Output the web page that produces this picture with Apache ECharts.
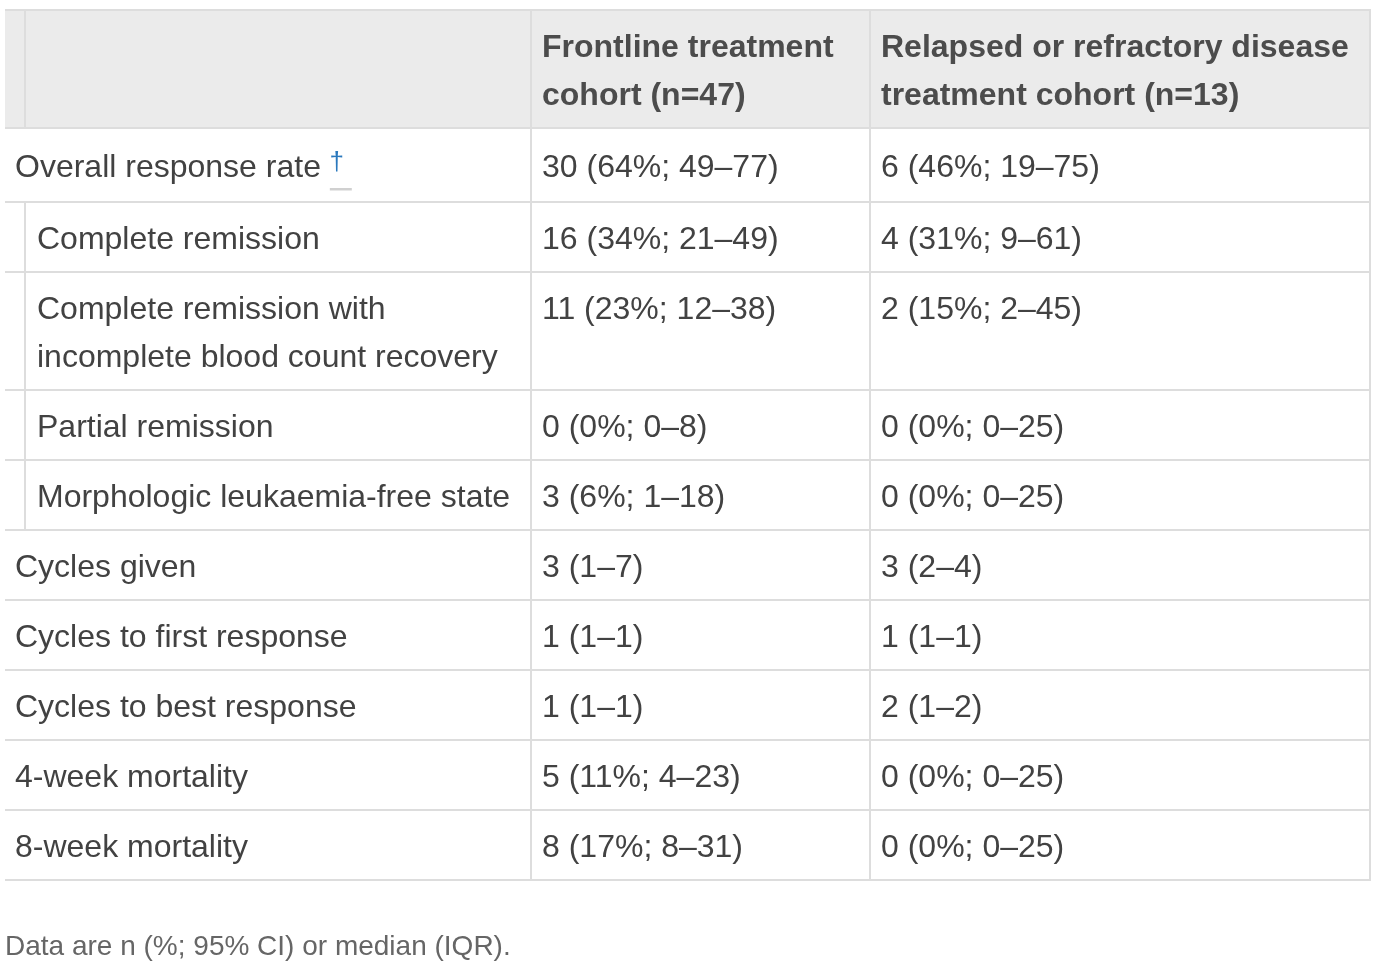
<!DOCTYPE html>
<html><head><meta charset="utf-8">
<script src="https://cdn.jsdelivr.net/npm/echarts@6/dist/echarts.min.js"></script>
<style>html,body{margin:0;padding:0;background:#fff;}#c{width:1388px;height:968px;}</style>
</head><body><div id="c"></div>
<script>
// ---- data ----
const columnHeaders = ['', 'Frontline treatment\ncohort (n=47)', 'Relapsed or refractory disease\ntreatment cohort (n=13)'];
const rowLabels = [
  'Overall response rate',
  'Complete remission',
  'Complete remission with\nincomplete blood count recovery',
  'Partial remission',
  'Morphologic leukaemia-free state',
  'Cycles given',
  'Cycles to first response',
  'Cycles to best response',
  '4-week mortality',
  '8-week mortality'
];
const rowNotes = ['†', '', '', '', '', '', '', '', '', ''];
const subRows = [false, true, true, true, true, false, false, false, false, false];
const frontline = [
  '30 (64%; 49–77)', '16 (34%; 21–49)', '11 (23%; 12–38)', '0 (0%; 0–8)', '3 (6%; 1–18)',
  '3 (1–7)', '1 (1–1)', '1 (1–1)', '5 (11%; 4–23)', '8 (17%; 8–31)'
];
const relapsed = [
  '6 (46%; 19–75)', '4 (31%; 9–61)', '2 (15%; 2–45)', '0 (0%; 0–25)', '0 (0%; 0–25)',
  '3 (2–4)', '1 (1–1)', '2 (1–2)', '0 (0%; 0–25)', '0 (0%; 0–25)'
];
const footnote = 'Data are n (%; 95% CI) or median (IQR).';

// ---- layout / style ----
const FONT = '"Liberation Sans", Arial, Helvetica, sans-serif';
const FS = 32, LH = 48, PAD = 11, TEXT_SHIFT = 3;
const TABLE_W = 1366;
const TEXT_COLOR = '#424242', HEAD_COLOR = '#4c4c4c', BORDER = '#dddddd', HEAD_BG = '#ebebeb';
const colLines = [525, 864];
const colTextX = [10, 537, 876];
const indentX = 19, indentTextX = 32;

const lineCount = s => s.split('\n').length;
const rows = [{ header: true, cells: columnHeaders, note: '', sub: false }];
rowLabels.forEach((l, i) => rows.push({ header: false, cells: [l, frontline[i], relapsed[i]], note: rowNotes[i], sub: subRows[i] }));
const heights = rows.map(r => Math.max(...r.cells.map(lineCount)) * LH + 2 * PAD + (r.note ? 4 : 0));
const tops = [];
heights.reduce((acc, h, i) => { tops[i] = acc; return acc + h; }, 0);
const TABLE_H = tops[tops.length - 1] + heights[heights.length - 1];

const mctx = document.createElement('canvas').getContext('2d');
mctx.font = FS + 'px ' + FONT;

function renderItem(params, api) {
  const i = params.dataIndex;
  const r = rows[i];
  const top = tops[i], h = heights[i];
  const p = (x, y) => api.coord([x, y]);
  const children = [];
  const rect = (x, y, w, hh, fill) => {
    const a = p(x, y), b = p(x + w, y + hh);
    children.push({ type: 'rect', shape: { x: a[0], y: a[1], width: b[0] - a[0], height: b[1] - a[1] }, style: { fill } });
  };
  if (r.header) {
    rect(0, top, TABLE_W - 2, h, HEAD_BG);
    rect(0, top - 1, TABLE_W, 2, BORDER);
  }
  rect(0, top + h - 1, TABLE_W, 2, BORDER);
  colLines.forEach(x => rect(x, top, 2, h, BORDER));
  rect(TABLE_W - 2, top - (r.header ? 1 : 0), 2, h + 1, BORDER);
  if (r.header || r.sub) rect(indentX, top, 2, h, BORDER);
  const yBase = top + PAD + (r.note ? 2 : 0);
  const yText = yBase + TEXT_SHIFT;
  r.cells.forEach((t, c) => {
    if (!t) return;
    const x = c === 0 ? (r.sub ? indentTextX : colTextX[0]) : colTextX[c];
    const a = p(x, yText);
    children.push({ type: 'text', x: a[0], y: a[1], style: {
      text: t, fontSize: FS, fontFamily: FONT, fontWeight: r.header ? 'bold' : 'normal',
      fill: r.header ? HEAD_COLOR : TEXT_COLOR, lineHeight: LH, align: 'left', verticalAlign: 'top'
    }});
    if (c === 0 && r.note) {
      const w = mctx.measureText(t + ' ').width;
      const x0 = x + w;
      rect(x0, yBase + 47, 22, 2.5, '#d0d0d0');
      const d = p(x0 + 7, yBase + 22);
      children.push({ type: 'text', x: d[0], y: d[1], style: {
        text: r.note, fontSize: 26, fontFamily: FONT, fill: '#2a78bd', align: 'center', verticalAlign: 'middle'
      }});
    }
  });
  return { type: 'group', children };
}

const chart = echarts.init(document.getElementById('c'), null, { renderer: 'canvas' });
chart.setOption({
  animation: false,
  backgroundColor: '#ffffff',
  grid: { left: 5, top: 10, width: TABLE_W, height: TABLE_H, containLabel: false },
  xAxis: { type: 'value', min: 0, max: TABLE_W, show: false },
  yAxis: { type: 'value', min: 0, max: TABLE_H, inverse: true, show: false },
  series: [{
    type: 'custom', silent: true, clip: false,
    renderItem,
    data: rows.map((_, i) => [0, tops[i]])
  }],
  graphic: [{
    type: 'text', left: 5, top: 933, silent: true,
    style: { text: footnote, fontSize: 28, fontFamily: FONT, fill: '#666666' }
  }]
});
</script></body></html>
